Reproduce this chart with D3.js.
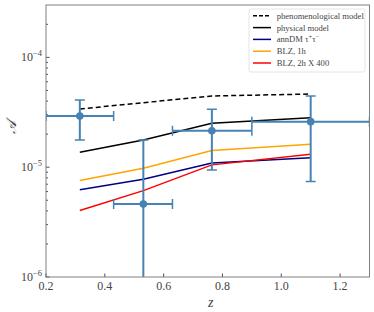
<!DOCTYPE html>
<html>
<head>
<meta charset="utf-8">
<script src="https://cdn.jsdelivr.net/npm/d3@7"></script>
<style>
  body { margin: 0; background: #fff; }
  svg { display: block; }
  text { font-family: "Liberation Serif", "DejaVu Serif", serif; }
</style>
</head>
<body>
<div id="chart"></div>
<script>
// model curves, evaluated at the bin centres
const zModel = [0.315, 0.531, 0.764, 1.100];
const phenomenological = [3.39e-5, 3.87e-5, 4.45e-5, 4.64e-5];
const physical = [1.37e-5, 1.77e-5, 2.51e-5, 2.82e-5];
const annDM = [6.22e-6, 7.78e-6, 1.09e-5, 1.22e-5];
const blz1h = [7.55e-6, 9.8e-6, 1.42e-5, 1.62e-5];
const blz2h = [4.03e-6, 6.12e-6, 1.05e-5, 1.31e-5];

// measured points with z bins and A errors
const zData = [0.315, 0.531, 0.764, 1.100];
const zLow = [0.20, 0.43, 0.63, 0.90];
const zHigh = [0.43, 0.63, 0.90, 1.30];
const aData = [2.92e-5, 4.61e-6, 2.15e-5, 2.60e-5];
const aLow = [1.77e-5, 1e-7, 9.45e-6, 7.40e-6];
const aHigh = [4.09e-5, 1.77e-5, 3.37e-5, 4.45e-5];

const xTicks = [0.2, 0.4, 0.6, 0.8, 1.0, 1.2];
const yMajor = [1e-6, 1e-5, 1e-4];
const yExp = ['\u22126', '\u22125', '\u22124'];

const series = [
  {name: 'phenomenological model', values: phenomenological, color: '#000', dash: '5,3'},
  {name: 'physical model', values: physical, color: '#000', dash: null},
  {name: 'annDM', values: annDM, color: '#000080', dash: null},
  {name: 'BLZ, 1h', values: blz1h, color: '#ffa500', dash: null},
  {name: 'BLZ, 2h X 400', values: blz2h, color: '#ff0000', dash: null}
];

const width = 374, height = 312;
const margin = {left: 46, top: 5, right: 4.5, bottom: 35};
const sWidth = width - margin.left - margin.right;
const sHeight = height - margin.top - margin.bottom;

const svg = d3.select('#chart').append('svg')
  .attr('width', width)
  .attr('height', height);

svg.append('defs').append('clipPath').attr('id', 'clip')
  .append('rect').attr('width', sWidth).attr('height', sHeight);

const chart = svg.append('g')
  .attr('transform', 'translate(' + margin.left + ',' + margin.top + ')');

const xScale = d3.scaleLinear().domain([0.2, 1.3]).range([0, sWidth]);
const yScale = d3.scaleLog().domain([1e-6, 3e-4]).range([sHeight, 0]);

// minor ticks on y
let minor = [];
for (let e = -6; e <= -4; e++) {
  for (let m = 2; m <= 9; m++) {
    let v = m * Math.pow(10, e);
    if (v <= 3e-4) minor.push(v);
  }
}

const tickColor = '#222';
chart.append('g').selectAll('line').data(minor).join('line')
  .attr('x1', 0).attr('x2', 2)
  .attr('y1', d => yScale(d)).attr('y2', d => yScale(d))
  .attr('stroke', tickColor).attr('stroke-width', 0.8);

chart.append('g').selectAll('line').data(yMajor).join('line')
  .attr('x1', 0).attr('x2', 3.5)
  .attr('y1', d => yScale(d)).attr('y2', d => yScale(d))
  .attr('stroke', tickColor).attr('stroke-width', 0.8);

chart.append('g').selectAll('line').data(xTicks).join('line')
  .attr('x1', d => xScale(d)).attr('x2', d => xScale(d))
  .attr('y1', sHeight).attr('y2', sHeight - 3.5)
  .attr('stroke', tickColor).attr('stroke-width', 0.8);

// tick labels
chart.append('g').selectAll('text').data(xTicks).join('text')
  .attr('x', d => xScale(d)).attr('y', sHeight + 13)
  .attr('text-anchor', 'middle')
  .attr('font-size', 12).attr('fill', '#444')
  .text(d => d.toFixed(1));

const yLab = chart.append('g').selectAll('text').data(yMajor).join('text')
  .attr('x', -4).attr('y', d => yScale(d) + 4)
  .attr('text-anchor', 'end')
  .attr('font-size', 12).attr('fill', '#444');
yLab.append('tspan').text('10');
yLab.append('tspan').attr('dy', -5).attr('font-size', 8.5).text((d, i) => yExp[i]);

// model lines
const line = d3.line()
  .x((d, i) => xScale(zModel[i]))
  .y(d => yScale(d));

const plot = chart.append('g').attr('clip-path', 'url(#clip)');
plot.selectAll('path.model').data(series).join('path')
  .attr('class', 'model')
  .attr('d', d => line(d.values))
  .attr('fill', 'none')
  .attr('stroke', d => d.color)
  .attr('stroke-width', 1.5)
  .attr('stroke-dasharray', d => d.dash);

// error bars
const blue = '#4682b4';
const cap = 5;
const eb = plot.append('g').selectAll('g').data(zData).join('g');
eb.append('line')
  .attr('x1', (d, i) => xScale(zLow[i])).attr('x2', (d, i) => xScale(zHigh[i]))
  .attr('y1', (d, i) => yScale(aData[i])).attr('y2', (d, i) => yScale(aData[i]))
  .attr('stroke', blue).attr('stroke-width', 2);
eb.append('line')
  .attr('x1', d => xScale(d)).attr('x2', d => xScale(d))
  .attr('y1', (d, i) => yScale(aLow[i])).attr('y2', (d, i) => yScale(aHigh[i]))
  .attr('stroke', blue).attr('stroke-width', 2);
// caps
[zLow, zHigh].forEach(arr => {
  eb.append('line')
    .attr('x1', (d, i) => xScale(arr[i])).attr('x2', (d, i) => xScale(arr[i]))
    .attr('y1', (d, i) => yScale(aData[i]) - cap).attr('y2', (d, i) => yScale(aData[i]) + cap)
    .attr('stroke', blue).attr('stroke-width', 1.5);
});
[aLow, aHigh].forEach(arr => {
  eb.append('line')
    .attr('x1', d => xScale(d) - cap).attr('x2', d => xScale(d) + cap)
    .attr('y1', (d, i) => yScale(arr[i])).attr('y2', (d, i) => yScale(arr[i]))
    .attr('stroke', blue).attr('stroke-width', 1.5);
});
eb.append('circle')
  .attr('cx', d => xScale(d)).attr('cy', (d, i) => yScale(aData[i]))
  .attr('r', 3.8).attr('fill', blue);

// frame
chart.append('rect')
  .attr('width', sWidth).attr('height', sHeight)
  .attr('fill', 'none').attr('stroke', '#808080').attr('stroke-width', 1);

// axis titles
svg.append('text')
  .attr('x', margin.left + xScale(0.76)).attr('y', 307)
  .attr('text-anchor', 'middle')
  .attr('font-size', 14).attr('font-style', 'italic').attr('fill', '#444')
  .text('z');

svg.append('text')
  .attr('transform', 'translate(16,' + (margin.top + yScale(2.3e-5)) + ') rotate(-90)')
  .attr('text-anchor', 'middle')
  .attr('font-size', 14).attr('font-style', 'italic').attr('fill', '#333')
  .text('\ud835\udc9c');

// legend
const legend = svg.append('g').attr('transform', 'translate(249,9)');
legend.append('rect')
  .attr('width', 116).attr('height', 63).attr('rx', 2)
  .attr('fill', '#fff').attr('fill-opacity', 0.8)
  .attr('stroke', '#ddd').attr('stroke-width', 0.8);
const item = legend.selectAll('g.item').data(series).join('g')
  .attr('class', 'item')
  .attr('transform', (d, i) => 'translate(0,' + (6.8 + i * 11.8) + ')');
item.append('line')
  .attr('x1', 4).attr('x2', 22)
  .attr('stroke', d => d.color).attr('stroke-width', 1.5)
  .attr('stroke-dasharray', d => d.dash ? '4,2' : null);
item.append('text')
  .attr('x', 27.7).attr('y', 3)
  .attr('font-size', 8.6).attr('fill', '#444')
  .each(function(d) {
    const t = d3.select(this);
    if (d.name === 'annDM') {
      t.append('tspan').text('annDM \u03c4');
      t.append('tspan').attr('dy', -3).attr('font-size', 6.5).text('+');
      t.append('tspan').attr('dy', 3).text('\u03c4');
      t.append('tspan').attr('dy', -3).attr('font-size', 6.5).text('\u2212');
    } else {
      t.text(d.name);
    }
  });
</script>
</body>
</html>
